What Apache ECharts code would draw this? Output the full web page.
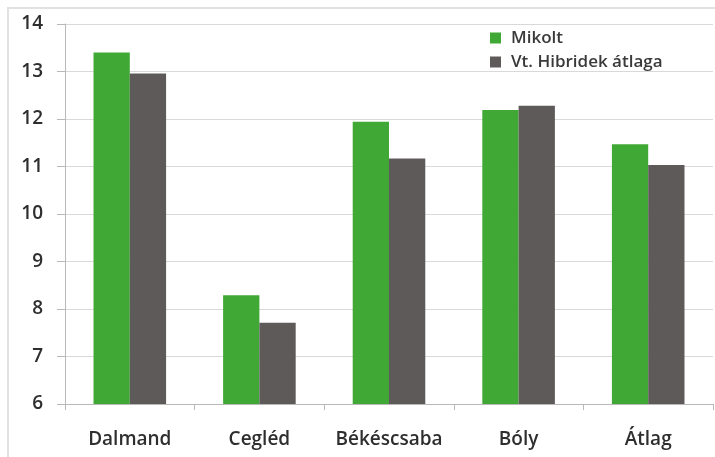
<!DOCTYPE html>
<html><head><meta charset="utf-8">
<script src="https://cdn.jsdelivr.net/npm/echarts@6/dist/echarts.min.js"></script>
<style>html,body{margin:0;padding:0;background:#fff}#c{width:715px;height:457px}</style>
</head><body><div id="c"></div>
<script>
const categories = ['Dalmand', 'Cegléd', 'Békéscsaba', 'Bóly', 'Átlag'];
const mikolt = [13.40, 8.29, 11.94, 12.19, 11.47];
const hibridek = [12.96, 7.71, 11.17, 12.28, 11.03];
const seriesNames = ['Mikolt', 'Vt. Hibridek átlaga'];
const font = '"Open Sans", "Noto Sans", sans-serif';
const chart = echarts.init(document.getElementById('c'));
chart.setOption({
  animation: false,
  backgroundColor: '#fff',
  graphic: [{type:'rect', shape:{x:8,y:8,width:720,height:460}, style:{fill:'none', stroke:'#e2e2e2', lineWidth:2}, silent:true, z:-1}],
  grid: {left: 65, right: 2, top: 24, bottom: 53},
  legend: {
    orient: 'vertical', left: 485, top: 24, itemWidth: 11, itemHeight: 11, itemGap: 6,
    icon: 'rect',
    textStyle: {fontFamily: font, fontSize: 17, fontWeight: 600, color: '#3a3a3a', lineHeight: 18, padding: [0, 0, 0, 5]},
    data: seriesNames
  },
  xAxis: {
    type: 'category', data: categories,
    axisLine: {lineStyle: {color: '#b8b8b8', width: 1}},
    axisTick: {show: true, length: 6, lineStyle: {color: '#b8b8b8'}},
    axisLabel: {interval: 0, fontFamily: font, fontSize: 19, fontWeight: 600, color: '#2e2e2e', margin: 26}
  },
  yAxis: {
    type: 'value', min: 6, max: 14, interval: 1,
    axisLine: {show: true, lineStyle: {color: '#b8b8b8'}},
    axisTick: {show: true, length: 8, lineStyle: {color: '#b8b8b8'}},
    axisLabel: {fontFamily: font, fontSize: 19, fontWeight: 600, color: '#2e2e2e', margin: 22},
    splitLine: {lineStyle: {color: '#d9d9d9', width: 1}}
  },
  series: [
    {name: seriesNames[0], type: 'bar', data: mikolt, barGap: '0%', barCategoryGap: '44%', itemStyle: {color: '#40a935'}},
    {name: seriesNames[1], type: 'bar', data: hibridek, itemStyle: {color: '#5e5a5a'}}
  ]
});
</script></body></html>
